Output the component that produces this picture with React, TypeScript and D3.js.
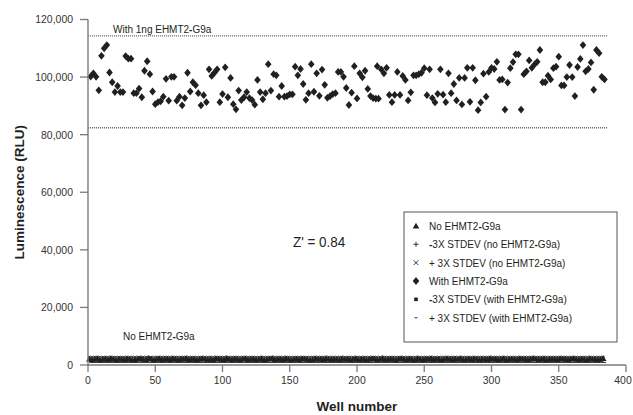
import React from 'react';
import * as d3 from 'd3';

const W = 633;
const H = 415;

const xTicks = [0, 50, 100, 150, 200, 250, 300, 350, 400];
const yTicks = [0, 20000, 40000, 60000, 80000, 100000, 120000];

// With EHMT2-G9a (diamonds) — well number / luminescence
const withWells = [
  2, 4, 6, 8, 10, 12, 14, 16, 18, 20, 22, 24, 26, 28, 30, 32, 34, 36, 38, 40,
  42, 44, 46, 48, 50, 52, 54, 56, 58, 60, 62, 64, 66, 68, 70, 72, 74, 76, 78, 80,
  82, 84, 86, 88, 90, 92, 94, 96, 98, 100, 102, 104, 106, 108, 110, 112, 114, 116, 118, 120,
  122, 124, 126, 128, 130, 132, 134, 136, 138, 140, 142, 144, 146, 148, 150, 152, 154, 156, 158, 160,
  162, 164, 166, 168, 170, 172, 174, 176, 178, 180, 182, 184, 186, 188, 190, 192, 194, 196, 198, 200,
  202, 204, 206, 208, 210, 212, 214, 215, 216, 218, 220, 222, 224, 226, 228, 230, 232, 234, 236, 238,
  240, 242, 244, 246, 248, 250, 252, 254, 256, 258, 260, 262, 264, 266, 268, 270, 272, 274, 276, 278,
  280, 282, 284, 286, 288, 290, 292, 294, 296, 298, 300, 302, 304, 306, 308, 310, 312, 314, 316, 318,
  320, 322, 324, 326, 328, 330, 332, 334, 336, 338, 340, 342, 344, 346, 348, 350, 352, 354, 356, 358,
  360, 362, 364, 366, 368, 370, 372, 374, 376, 378, 380, 382, 384,
];
const withValues = [
  100200, 101300, 100100, 95400, 107400, 110000, 111100, 101600, 98200, 94800, 96900, 94800, 94800, 107300, 106400, 106400, 94400, 94400, 96000, 93000,
  102200, 105500, 101000, 95000, 90600, 91300, 91600, 93200, 99400, 91800, 100100, 100100, 91800, 93200, 90200, 92700, 101500, 95000, 98200, 97200,
  94400, 90200, 93700, 91300, 102700, 100400, 101500, 102700, 91300, 94100, 103400, 93000, 99700, 90600, 88800, 95300, 92000, 93000, 94800, 92700,
  92000, 90400, 99000, 94800, 92300, 94400, 104500, 95300, 101000, 100600, 93200, 96900, 93200, 93400, 94000, 94000, 103600, 100600, 102800, 97600,
  92100, 94400, 104500, 94900, 101300, 93500, 102600, 97300, 92800, 93400, 94100, 94400, 101800, 101800, 100100, 96200, 90300, 94600, 103800, 92600,
  101300, 99900, 102200, 95900, 93400, 92700, 92500, 103800, 92500, 102700, 101300, 103200, 93800, 91300, 93800, 101800, 93800, 100400, 99000, 91900,
  94700, 100600, 100600, 101000, 101500, 103100, 93700, 102700, 92700, 91200, 94200, 102700, 93900, 91300, 101300, 94400, 97600, 91900, 99700, 90500,
  99700, 103200, 91400, 103200, 98900, 88500, 91200, 101200, 93200, 101800, 103200, 102800, 105300, 99000, 99200, 88700, 98100, 103100, 105200, 107900,
  107900, 88700, 101000, 102000, 105800, 103200, 104400, 105300, 109400, 98200, 98200, 100500, 99200, 103100, 103600, 107100, 97100, 97100, 100000, 104200,
  100000, 93400, 103500, 106300, 111100, 102000, 102800, 105100, 95600, 109400, 108300, 100100, 99200,
];

// No EHMT2-G9a (triangles) — read as a dense band near 2,000 RLU
const noWells = d3.range(1, 385, 2);
const noValues = [
  2100, 1900, 2000, 2200, 1800, 2000, 2100, 1900, 2300, 2000, 1800, 2100, 2000, 1900, 2200, 2000, 1800, 1900, 2100, 2200,
  2000, 1900, 2300, 2100, 1800, 2000, 2200, 1900, 2000, 2100, 1900, 2200, 2000, 1800, 2100, 2000, 2300, 1900, 2000, 2100,
  1800, 2000, 2200, 2100, 1900, 2000, 1800, 2200, 2100, 2000, 1900, 2300, 2000, 1900, 2100, 2000, 1800, 2100, 2200, 1900,
  2000, 2100, 1900, 2000, 2200, 1800, 2000, 2100, 2300, 1900, 2000, 2100, 1900, 2200, 2000, 1800, 2000, 2100, 1900, 2200,
  2100, 2000, 1800, 1900, 2200, 2000, 2100, 1900, 2300, 2000, 1900, 2100, 2000, 1800, 2200, 2000, 2100, 1900, 2000, 2200,
  1900, 2000, 2100, 1800, 2000, 2200, 2100, 1900, 2000, 2300, 1900, 2000, 2100, 2000, 1800, 2100, 2200, 2000, 1900, 2100,
  2000, 1800, 2200, 2000, 1900, 2100, 2000, 2300, 1900, 2000, 2100, 1800, 2000, 2200, 2000, 1900, 2100, 2000, 2200, 1900,
  2000, 2100, 1900, 2200, 2000, 1800, 2100, 2000, 1900, 2300, 2000, 2100, 1900, 2000, 2200, 1800, 2000, 2100, 2000, 1900,
  2200, 2000, 2100, 1900, 2000, 2300, 2100, 1900, 2000, 2200, 1800, 2000, 2100, 2000, 1900, 2200, 2100, 2000, 1900, 2100,
  2200, 2000, 1900, 2100, 2000, 1800, 2200, 2000, 2100, 1900, 2000, 2300,
];

const allWells = d3.range(1, 385);
const minusNo = 900;
const plusNo = 3100;
const minusWith = 82400;
const plusWith = 114300;

const legendItems = [
  'No EHMT2-G9a',
  '-3X STDEV (no EHMT2-G9a)',
  '+ 3X STDEV (no EHMT2-G9a)',
  'With EHMT2-G9a',
  '-3X STDEV (with EHMT2-G9a)',
  '+ 3X STDEV (with EHMT2-G9a)',
];

const INK = '#231f20';
const AXIS = '#7a7a7a';
const FONT = '"Liberation Sans", Arial, Helvetica, sans-serif';

const x = d3.scaleLinear().domain([0, 400]).range([88, 626]);
const y = d3.scaleLinear().domain([0, 120000]).range([365, 19.5]);

const diamond = 'M0,-3.9L3.3,0L0,3.9L-3.3,0Z';
const triangle = 'M0,-3.3L3.3,2.5L-3.3,2.5Z';

// Condensed label; hyphens set bold like the original typesetting
function HyText({ text, x: tx, y: ty, sx = 0.91, anchor = 'start', ...rest }: any) {
  const parts = text.split(/(-)/);
  return (
    <text transform={`translate(${tx},${ty}) scale(${sx},1)`} textAnchor={anchor} dy="0.35em" {...rest}>
      {parts.map((p: string, i: number) =>
        p === '-' ? (
          <tspan key={i} fontWeight="bold">-</tspan>
        ) : (
          <tspan key={i}>{p}</tspan>
        )
      )}
    </text>
  );
}

function LegendSymbol({ i, cx, cy }: { i: number; cx: number; cy: number }) {
  switch (i) {
    case 0:
      return <path d={triangle} transform={`translate(${cx},${cy})`} fill={INK} />;
    case 1:
      return (
        <path d={`M${cx - 2.5},${cy}H${cx + 2.5}M${cx},${cy - 2.5}V${cy + 2.5}`} stroke={INK} strokeWidth={0.9} />
      );
    case 2:
      return (
        <path d={`M${cx - 2.3},${cy - 2.3}L${cx + 2.3},${cy + 2.3}M${cx - 2.3},${cy + 2.3}L${cx + 2.3},${cy - 2.3}`} stroke={INK} strokeWidth={0.9} />
      );
    case 3:
      return <path d={diamond} transform={`translate(${cx},${cy})`} fill={INK} />;
    case 4:
      return <rect x={cx - 1.8} y={cy - 1.8} width={3.6} height={3.6} fill={INK} />;
    default:
      return <rect x={cx - 1.5} y={cy - 0.6} width={3} height={1.2} fill="#555" />;
  }
}

export default function App() {
  const stdevPath = (v: number) =>
    d3.line<number>().x((d) => x(d)).y(() => y(v))([0, 386]) as string;

  const legendX = 404;
  const legendY = 212;
  const legendRows = [226, 244.3, 262.7, 281, 299.3, 317.7];

  return (
    <svg
      width={W}
      height={H}
      style={{ position: 'absolute', left: 0, top: 0, background: '#fff' }}
      fontFamily={FONT}
    >
      <rect width={W} height={H} fill="#fff" />

      {/* ±3X STDEV (with EHMT2-G9a) dotted lines */}
      <path d={stdevPath(plusWith)} stroke="#6f6f6f" strokeWidth={1.3} strokeDasharray="1.1 0.9" fill="none" />
      <path d={stdevPath(minusWith)} stroke="#6f6f6f" strokeWidth={1.3} strokeDasharray="1.1 0.9" fill="none" />

      {/* No EHMT2-G9a band */}
      {noWells.map((w, i) => (
        <path key={'n' + i} d={triangle} transform={`translate(${x(w)},${y(noValues[i])})`} fill={INK} />
      ))}
      {allWells.map((w, i) =>
        i % 2 === 0 ? (
          <path
            key={'p' + i}
            d={`M${x(w) - 1.5},${y(plusNo)}L${x(w) + 1.5},${y(plusNo) + 1.6}M${x(w) - 1.5},${y(plusNo) + 1.6}L${x(w) + 1.5},${y(plusNo)}`}
            stroke={INK}
            strokeWidth={0.8}
          />
        ) : null
      )}
      {allWells.map((w, i) =>
        i % 2 === 1 ? (
          <path key={'m' + i} d={`M${x(w) - 1.4},${y(minusNo)}H${x(w) + 1.4}`} stroke={INK} strokeWidth={1} />
        ) : null
      )}

      {/* With EHMT2-G9a diamonds */}
      {withWells.map((w, i) => (
        <path key={'w' + i} d={diamond} transform={`translate(${x(w)},${y(withValues[i])})`} fill={INK} />
      ))}

      {/* Y axis */}
      <line x1={x(0)} x2={x(0)} y1={y(120000)} y2={y(0) + 0.6} stroke={AXIS} strokeWidth={1.4} />
      {yTicks.map((t) => (
        <g key={'y' + t}>
          <line x1={x(0) - 8} x2={x(0)} y1={y(t)} y2={y(t)} stroke={AXIS} strokeWidth={1.3} />
          <HyText text={d3.format(',')(t)} x={x(0) - 15} y={y(t)} anchor="end" sx={0.95} fontSize={11} fill="#333" />
        </g>
      ))}

      {/* X axis */}
      <line x1={x(0)} x2={x(400)} y1={y(0)} y2={y(0)} stroke={AXIS} strokeWidth={1.4} />
      {xTicks.map((t) => (
        <g key={'x' + t}>
          <line x1={x(t)} x2={x(t)} y1={y(0)} y2={y(0) + 7} stroke={AXIS} strokeWidth={1.3} />
          <HyText
            text={String(t)}
            x={Math.min(x(t), W - 10)}
            y={380}
            anchor="middle"
            sx={0.95}
            fontSize={11}
            fill="#333"
          />
        </g>
      ))}

      {/* Axis titles */}
      <text x={357} y={406} dy="0.35em" textAnchor="middle" fontSize={13.5} fontWeight="bold" fill={INK}>
        Well number
      </text>
      <text
        transform={`translate(19,${(y(0) + y(120000)) / 2}) rotate(-90)`}
        dy="0.35em"
        textAnchor="middle"
        fontSize={13.5}
        fontWeight="bold"
        fill={INK}
      >
        Luminescence (RLU)
      </text>

      {/* Annotations */}
      <HyText text="With 1ng EHMT2-G9a" x={113} y={29} fontSize={11} fill={INK} />
      <HyText text="No EHMT2-G9a" x={123} y={336} fontSize={11} fill={INK} />
      <HyText text="Z' = 0.84" x={293} y={242} sx={0.96} fontSize={14} fill={INK} />

      {/* Legend */}
      <rect x={legendX} y={legendY} width={213} height={130} fill="#fff" stroke="#555" strokeWidth={1} />
      {legendItems.map((label, i) => (
        <g key={'l' + i}>
          <LegendSymbol i={i} cx={416} cy={legendRows[i]} />
          <HyText text={label} x={429} y={legendRows[i]} fontSize={11} fill={INK} />
        </g>
      ))}
    </svg>
  );
}
